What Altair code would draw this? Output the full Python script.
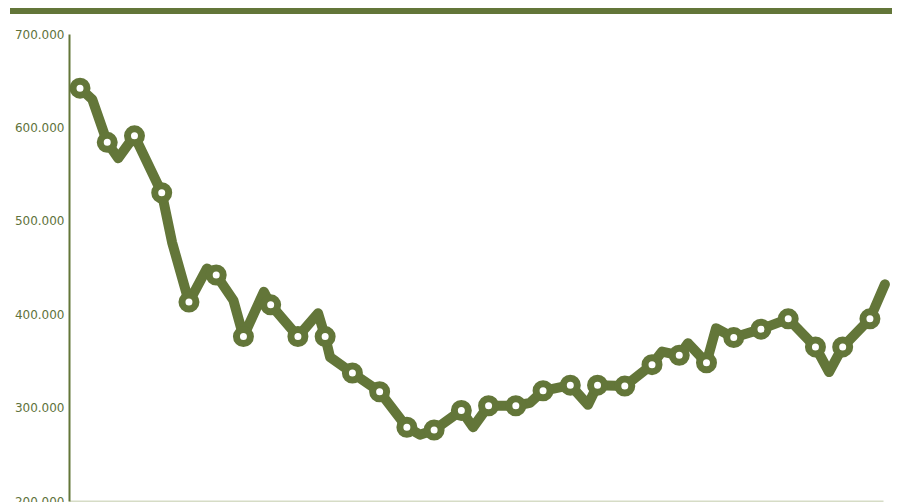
import altair as alt
import pandas as pd

# x position (index of period), value, whether a marker is drawn
t_vals = [0, 0.45, 1, 1.4, 2, 3, 3.38, 4, 4.66, 5, 5.63, 6, 6.75, 7, 8, 8.74, 9, 9.18,
          10, 11, 12, 12.48, 13, 14, 14.43, 15, 16, 16.52, 17, 18, 18.65, 19, 20, 21,
          21.37, 22, 22.32, 23, 23.35, 24, 25, 26, 27, 27.5, 28, 29, 29.55]
values = [642000, 630000, 584000, 567000, 591000, 530000, 477000, 413000, 449000, 442000,
          415000, 376000, 424000, 410000, 376000, 401000, 376000, 354000,
          337000, 317000, 279000, 271000, 276000, 297000, 279000, 302000, 302000, 305000,
          318000, 324000, 303000, 324000, 323000, 346000,
          360000, 356000, 369000, 348000, 385000, 375000, 384000, 395000, 365000, 338000,
          365000, 395000, 432000]
marker = [True, False, True, False, True, True, False, True, False, True, False, True,
          False, True, True, False, True, False,
          True, True, True, False, True, True, False, True, True, False, True, True, False,
          True, True, True,
          False, True, False, True, False, True, True, True, True, False, True, True, False]

y_ticks = [200000, 300000, 400000, 500000, 600000, 700000]

GREEN = "#637639"
LABEL = "#60723b"

df = pd.DataFrame({"t": t_vals, "value": values, "marker": marker})

x_enc = alt.X("t:Q", scale=alt.Scale(domain=[-0.404, 29.48], nice=False, zero=False),
              axis=alt.Axis(title=None, labels=False, ticks=False, grid=False,
                            domainColor="#d6dcc6", domainWidth=2))
y_enc = alt.Y("value:Q", scale=alt.Scale(domain=[200000, 700000], nice=False, zero=False),
              axis=alt.Axis(title=None, values=y_ticks, ticks=False, grid=False,
                            domainColor=GREEN, domainWidth=2,
                            labelExpr="replace(format(datum.value, ','), ',', '.')",
                            labelFont="DejaVu Sans", labelFontSize=12, labelColor=LABEL,
                            labelPadding=5))

line = alt.Chart(df).mark_line(color=GREEN, strokeWidth=10, strokeCap="round",
                               strokeJoin="round").encode(x=x_enc, y=y_enc)
points = alt.Chart(df).transform_filter("datum.marker").mark_point(
    shape="circle", filled=True, fill="white", stroke=GREEN, strokeWidth=7, size=196,
    opacity=1).encode(x="t:Q", y="value:Q")

bar = alt.Chart(pd.DataFrame({"k": [0]})).mark_rect(color=GREEN).encode(
    x=alt.value(-59), x2=alt.value(823), y=alt.value(-26), y2=alt.value(-20))

chart = alt.layer(bar, line, points).properties(
    width=814, height=467,
    autosize=alt.AutoSizeParams(type="none"),
    padding={"left": 61, "top": 26, "right": 9, "bottom": 20},
).configure_view(stroke=None)

chart.save("out.html", embed_options={"renderer": "svg", "actions": False})
